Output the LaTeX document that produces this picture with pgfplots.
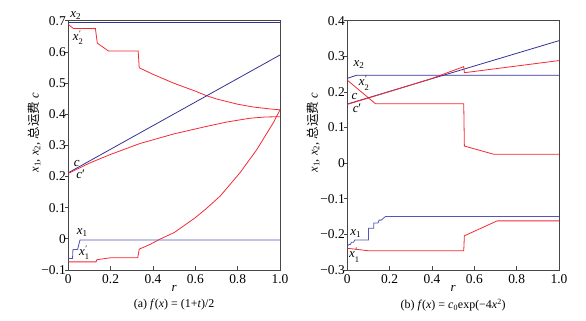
\documentclass[border=0pt]{standalone}
\usepackage{pgfplots}
\pgfplotsset{compat=1.18}
\usepackage{fontspec}
\setmainfont{Liberation Serif}
\newfontfamily\cjk{Noto Sans CJK SC}
\definecolor{bl}{RGB}{50,50,150}
\definecolor{bll}{RGB}{85,85,185}
\definecolor{rd}{RGB}{245,40,50}
\definecolor{fr}{RGB}{70,70,70}
\newcommand{\xs}[1]{\textit{x}\textsubscript{#1}}
\newcommand{\xp}[1]{\textit{x}\raisebox{-0.8ex}{\fontsize{8.5}{10}\selectfont\shortstack[l]{\textit{′}\\#1}}}
\tikzset{lab/.style={font=\fontsize{13}{15}\selectfont, inner sep=0pt}}
\pgfplotsset{
  myax/.style={
    scale only axis, width=211.7bp, height=249.3bp,
    xmin=0, xmax=1,
    axis line style={fr, line width=0.9pt},
    tick align=inside, major tick length=3.5bp,
    xtick pos=bottom, ytick pos=left,
    tick style={fr, line width=0.7pt},
    y tick style={xshift=-3.5bp},
    xtick={0,0.2,0.4,0.6,0.8,1},
    xticklabels={0,0.2,0.4,0.6,0.8,1.0},
    tick label style={font=\fontsize{13.5}{15}\selectfont},
    xticklabel style={yshift=-1bp},
    yticklabel style={xshift=1bp},
    xlabel={\textit{r}},
    xlabel style={at={(axis description cs:0.5,0)}, anchor=center, yshift=-18bp, font=\fontsize{13}{15}\selectfont},
    ylabel={\xs{1}, \xs{2}, {\cjk 总运费} \textit{c}},
    ylabel style={at={(axis description cs:0,0.55)}, anchor=center, yshift=34bp, font=\fontsize{12.5}{15}\selectfont},
    clip mode=individual,
    every axis plot/.append style={line width=0.8pt},
  }
}
\begin{document}
\begin{tikzpicture}
\path (0,0) rectangle (586bp,321bp);
% ---------------- (a)
\begin{axis}[myax, at={(68.3bp,51bp)}, anchor=south west,
  ymin=-0.1, ymax=0.7,
  ytick={-0.1,0,0.1,0.2,0.3,0.4,0.5,0.6,0.7},
  yticklabels={−0.1,0,0.1,0.2,0.3,0.4,0.5,0.6,0.7}]
\addplot[bl] coordinates {(0,0.696) (1,0.696)};
\addplot[rd] coordinates {(0,0.688) (0.024,0.675) (0.128,0.675) (0.137,0.628) (0.189,0.603) (0.33,0.603) (0.335,0.549) (0.4,0.528) (0.5,0.499) (0.6,0.474) (0.654,0.459) (0.7,0.449) (0.8,0.432) (0.874,0.423) (0.95,0.417) (1,0.414)};
\addplot[bl] coordinates {(0,0.212) (1,0.59)};
\addplot[rd] coordinates {(0,0.21) (0.1,0.243) (0.2,0.271) (0.339,0.306) (0.5,0.337) (0.654,0.361) (0.75,0.375) (0.858,0.387) (0.93,0.391) (1,0.392)};
\addplot[rd] coordinates {(0,-0.074) (0.131,-0.074) (0.135,-0.067) (0.197,-0.061) (0.328,-0.061) (0.335,-0.033) (0.386,-0.018) (0.433,-0.001) (0.5,0.02) (0.598,0.067) (0.65,0.096) (0.717,0.137) (0.811,0.212) (0.89,0.286) (0.968,0.372) (1,0.414)};
\addplot[bll] coordinates {(0,-0.063) (0.02,-0.063) (0.022,-0.034) (0.044,-0.034) (0.055,-0.004) (1,-0.004)};
\node[lab] at (axis cs:0.035,0.718) {\xs{2}};
\node[lab] at (axis cs:0.045,0.645) {\xp{2}};
\node[lab] at (axis cs:0.04,0.243) {\textit{c}};
\node[lab] at (axis cs:0.058,0.207) {\textit{c}′};
\node[lab] at (axis cs:0.066,0.019) {\xs{1}};
\node[lab] at (axis cs:0.075,-0.045) {\xp{1}};
\node[font=\fontsize{12}{14}\selectfont] at (axis description cs:0.5,0) [yshift=-35bp] {(a)\ \textit{f}(\textit{x}) = (1+\textit{t})/2};
\end{axis}
% ---------------- (b)
\begin{axis}[myax, at={(347.3bp,51bp)}, anchor=south west,
  ymin=-0.3, ymax=0.4,
  ytick={-0.3,-0.2,-0.1,0,0.1,0.2,0.3,0.4},
  yticklabels={−0.3,−0.2,−0.1,0,0.1,0.2,0.3,0.4}]
\addplot[bl] coordinates {(0,0.238) (0.045,0.247) (1,0.247)};
\addplot[rd] coordinates {(0,0.233) (0.133,0.167) (0.55,0.167) (0.553,0.048) (0.692,0.025) (1,0.025)};
\addplot[bl] coordinates {(0,0.166) (1,0.344)};
\addplot[rd] coordinates {(0,0.165) (0.2,0.201) (0.4,0.238) (0.55,0.271) (0.553,0.254) (1,0.288)};
\addplot[bll] coordinates {(0,-0.232) (0.01,-0.228) (0.015,-0.228) (0.02,-0.222) (0.03,-0.222) (0.035,-0.216) (0.1,-0.216) (0.1,-0.183) (0.125,-0.183) (0.125,-0.168) (0.145,-0.168) (0.15,-0.16) (0.16,-0.16) (0.18,-0.15) (1,-0.15)};
\addplot[rd] coordinates {(0,-0.239) (0.1,-0.246) (0.55,-0.246) (0.553,-0.204) (0.708,-0.162) (1,-0.162)};
\node[lab] at (axis cs:0.055,0.278) {\xs{2}};
\node[lab] at (axis cs:0.078,0.224) {\xp{2}};
\node[lab] at (axis cs:0.034,0.187) {\textit{c}};
\node[lab] at (axis cs:0.046,0.155) {\textit{c}′};
\node[lab] at (axis cs:0.04,-0.197) {\xs{1}};
\node[lab] at (axis cs:0.032,-0.258) {\xp{1}};
\node[font=\fontsize{12}{14}\selectfont] at (axis description cs:0.5,0) [yshift=-35bp] {(b)\ \textit{f}(\textit{x}) = \textit{c}\textsubscript{0}exp(−4\textit{x}\textsuperscript{2})};
\end{axis}
\end{tikzpicture}
\end{document}
